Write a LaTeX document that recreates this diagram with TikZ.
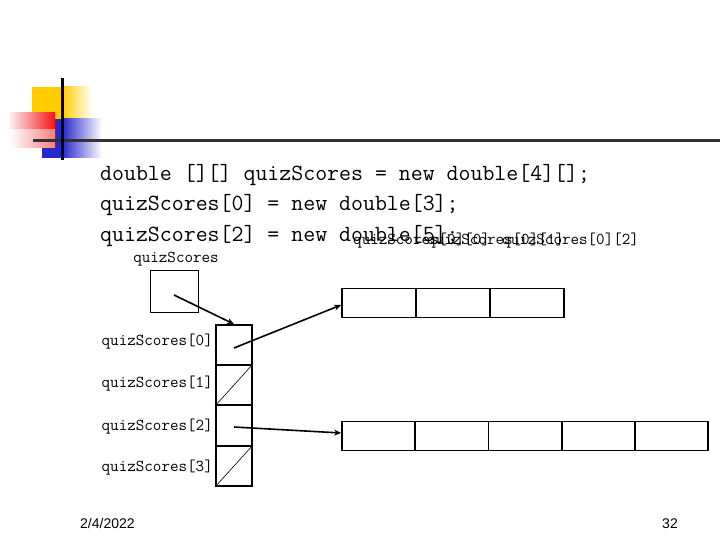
\documentclass[tikz,border=0pt]{standalone}
\usepackage{fontspec}
\setmainfont{Liberation Sans}
\usetikzlibrary{arrows.meta}
\definecolor{logoyellow}{RGB}{255,204,0}
\definecolor{logored}{RGB}{245,20,20}
\definecolor{logoblue}{RGB}{40,40,200}
\definecolor{rulegray}{RGB}{50,50,50}
\tikzset{
  codetext/.style={font=\ttfamily\fontsize{23.2}{26}\selectfont, anchor=base west, inner sep=0pt},
  smalllabel/.style={font=\ttfamily\fontsize{16.6}{18}\selectfont, inner sep=0pt},
  colcell/.style={draw, line width=1.8pt, minimum width=36pt, minimum height=40pt, inner sep=0pt},
  rowcell/.style={draw, line width=1.8pt, minimum height=29pt, inner sep=0pt},
  refarrow/.style={line width=1.6pt, -{Stealth[length=7pt,width=6pt]}},
  footer/.style={font=\fontsize{14}{16}\selectfont, inner sep=0pt},
}
\begin{document}
\begin{tikzpicture}[x=1pt,y=-1pt]
\useasboundingbox (0,0) rectangle (720,540);
% logo
\fill[logoyellow] (32,87) rectangle (62,119);
\shade[left color=logoyellow, right color=white] (62,87) rectangle (92,119);
\fill[logoblue] (42,119) rectangle (62,158);
\shade[left color=logoblue, right color=white] (62,119) rectangle (102,158);
\shade[left color=white!92!logored, right color=logored] (10,113) rectangle (55,130);
\shade[left color=white, right color=white!45!logored] (10,130) rectangle (55,148);
\draw[rulegray, line width=3pt] (33,141) -- (720,141);
\draw[black, line width=3pt] (62,78) -- (62,160);
% code
\node[codetext] (l1) at (100,181) {double [][] quizScores = new double[4][];};
\node[codetext] (l2) at (100,211) {quizScores[0] = new double[3];};
\node[codetext] (l3) at (100,241) {quizScores[2] = new double[5];};
% overlapping labels
\node[smalllabel, anchor=base west] (t0) at (353,244) {quizScores[0][0]};
\node[smalllabel, anchor=base west] (t1) at (427,244) {quizScores[0][1]};
\node[smalllabel, anchor=base west] (t2) at (502,244) {quizScores[0][2]};
% quizScores variable
\node[smalllabel] (qslab) at (176,259) {quizScores};
\node[draw, line width=0.8pt, minimum width=48pt, minimum height=42pt, inner sep=0pt] (qs) at (174,291) {};
\coordinate (qsp) at (174,295);
% column
\node[colcell] (c0) at (234,345) {};
\node[colcell] (c1) at (234,385) {};
\node[colcell] (c2) at (234,425.5) {};
\node[colcell] (c3) at (234,466) {};
\draw[line width=0.6pt] (c1.south west) -- (c1.north east);
\draw[line width=0.6pt] (c3.south west) -- (c3.north east);
\node[smalllabel, anchor=east] (r0) at (213,342) {quizScores[0]};
\node[smalllabel, anchor=east] (r1) at (213,384) {quizScores[1]};
\node[smalllabel, anchor=east] (r2) at (213,427) {quizScores[2]};
\node[smalllabel, anchor=east] (r3) at (213,468) {quizScores[3]};
\coordinate (c0p) at (234,348);
\coordinate (c2p) at (234,427);
% top array
\node[rowcell, minimum width=74pt] (a0) at (379,303) {};
\node[rowcell, minimum width=74pt] (a1) at (453,303) {};
\node[rowcell, minimum width=74pt] (a2) at (527,303) {};
% bottom array
\node[rowcell, minimum width=73.2pt] (b0) at (378.6,436) {};
\node[rowcell, minimum width=73.2pt] (b1) at (451.8,436) {};
\node[rowcell, minimum width=73.2pt] (b2) at (525,436) {};
\node[rowcell, minimum width=73.2pt] (b3) at (598.2,436) {};
\node[rowcell, minimum width=73.2pt] (b4) at (671.4,436) {};
% arrows
\draw[refarrow] (qsp) -- (c0.north);
\draw[refarrow] (c0p) -- ([yshift=-2pt]a0.west);
\draw[refarrow] (c2p) -- ([yshift=3pt]b0.west);
% footer
\node[footer, anchor=base west] (date) at (80,528) {2/4/2022};
\node[footer, anchor=base east] (page) at (678,528) {32};
\end{tikzpicture}
\end{document}
